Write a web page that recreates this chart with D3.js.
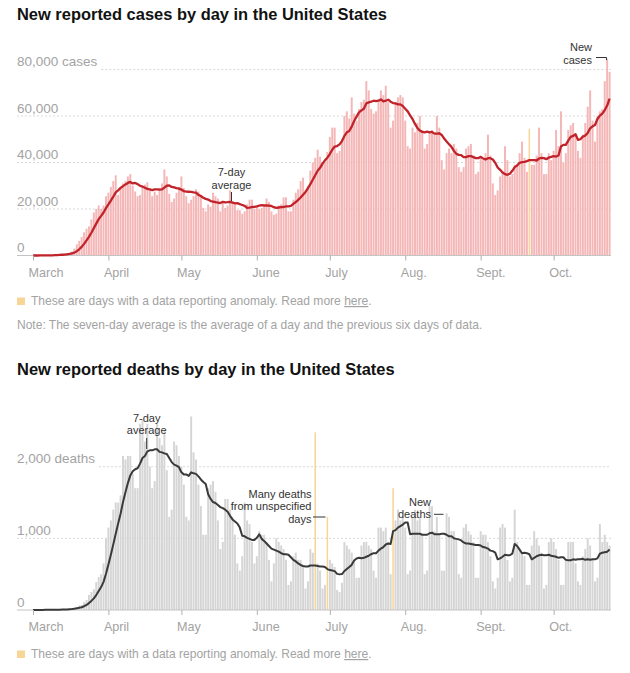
<!DOCTYPE html>
<html>
<head>
<meta charset="utf-8">
<script src="https://cdn.jsdelivr.net/npm/d3@7"></script>
<style>
  html, body { margin: 0; padding: 0; background: #fff; }
  svg { display: block; }
  text { font-family: "Liberation Sans", Arial, sans-serif; }
</style>
</head>
<body>
<svg id="chart" width="630" height="673"></svg>
<script>
// ---------------- DATA ----------------
const startDate = "2020-03-01";
const monthTickDates = ["2020-03-01","2020-04-01","2020-05-01","2020-06-01","2020-07-01","2020-08-01","2020-09-01","2020-10-01"];
const monthTickLabels = ["March","April","May","June","July","Aug.","Sept.","Oct."];

const casesDaily = [
  // March
  12, 22, 28, 30, 65, 75, 110, 120, 180, 290,
  410, 500, 620, 760, 900, 1100, 1800, 3000, 4800, 6300,
  8000, 10000, 11500, 12500, 15500, 18500, 20000, 21500, 20000, 21500, 25500,
  // April
  27000, 29500, 32000, 34500, 26000, 29000, 31000, 32000, 34000, 35000,
  30000, 27500, 25500, 26000, 29500, 30500, 31500, 28500, 25500, 27500,
  26000, 29000, 31000, 37000, 34000, 26500, 23000, 24500, 27000, 29500,
  // May
  34000, 29000, 25500, 22500, 24000, 25500, 28500, 27500, 25500, 20500,
  19000, 22000, 21000, 27000, 25500, 24500, 19000, 22500, 20500, 21500,
  28000, 23500, 22000, 19500, 19500, 18000, 19000, 22000, 24000, 24000, 20000,
  // June
  21000, 20000, 20500, 21000, 24500, 23000, 19000, 17500, 18000, 21500,
  22000, 25000, 25000, 19000, 19000, 24000, 27000, 28500, 32000, 33500,
  27500, 30000, 36500, 40000, 42000, 45500, 42500, 40000, 40000, 44500,
  // July
  51000, 55000, 55000, 44000, 45000, 50000, 60000, 62000, 59000, 68000,
  61000, 58000, 63000, 66000, 67000, 75000, 71000, 63000, 61000, 62000,
  67000, 71000, 69000, 73000, 66000, 55000, 58000, 66000, 68000, 69000, 68000,
  // August
  58000, 47000, 46000, 55000, 53000, 57000, 60000, 54000, 46000, 48000,
  53000, 54000, 52000, 60000, 55000, 41000, 37000, 44000, 46000, 44000,
  48000, 46000, 38000, 36000, 38000, 46000, 47000, 48000, 43000, 35000, 36000,
  // September
  42000, 41000, 44000, 52000, 43000, 31000, 26000, 28000, 34000, 36000,
  47000, 41000, 34000, 35000, 39000, 39000, 44000, 49000, 42000, 36000,
  54500, 39000, 39000, 43000, 55000, 44000, 35000, 35000, 44000, 41000,
  // October
  45000, 54000, 47000, 62000, 40000, 44000, 54000, 56000, 57000, 52000,
  45000, 42000, 52000, 57000, 64000, 71000, 58000, 49000, 60000, 62000,
  63000, 75000, 84500, 79000
];

const deathsDaily = [
  // March
  1, 5, 1, 3, 1, 3, 2, 3, 4, 6,
  8, 7, 11, 10, 13, 20, 25, 37, 45, 62,
  70, 110, 140, 210, 250, 290, 390, 460, 500, 650, 1000,
  // April
  1150, 1250, 1400, 1500, 1500, 1600, 2150, 2100, 2150, 2150,
  1900, 1700, 1700, 2600, 2650, 2350, 2600, 2000, 1700, 1800,
  2600, 2400, 2300, 2500, 1950, 1300, 1400, 2350, 2300, 2150,
  // May
  2000, 1750, 1300, 1250, 2700, 2200, 2100, 1750, 1450, 1050,
  1050, 1700, 1750, 1800, 1650, 1250, 850, 950, 1550, 1550,
  1400, 1300, 1050, 650, 550, 750, 1500, 1250, 1200, 950, 650,
  // June
  750, 1100, 1050, 1050, 950, 700, 400, 650, 1000, 950,
  900, 850, 700, 350, 400, 750, 800, 700, 700, 600,
  300, 400, 850, 800, 2480, 650, 550, 300, 350, 1300,
  // July
  700, 650, 600, 280, 250, 380, 950, 900, 850, 800,
  700, 450, 450, 900, 950, 950, 900, 850, 550, 450,
  1150, 1150, 1100, 1150, 950, 500, 1700, 1250, 1400, 1250, 1300,
  // August
  1150, 500, 550, 1300, 1400, 1250, 1300, 1050, 500, 550,
  1450, 1450, 1100, 1300, 1050, 550, 550, 1350, 1300, 1100,
  1100, 1000, 500, 450, 1150, 1200, 1100, 1050, 950, 450, 450,
  // September
  1100, 1050, 1050, 950, 750, 400, 300, 450, 1150, 1200,
  1150, 700, 400, 450, 1400, 950, 850, 800, 750, 350,
  350, 900, 1100, 1000, 900, 800, 300, 350, 950, 1000,
  // October
  950, 850, 700, 350, 350, 700, 950, 950, 950, 650,
  400, 350, 750, 850, 1000, 900, 700, 400, 450, 1200,
  950, 1050, 950, 900
];

// days with a data reporting anomaly, and the value counted in the 7-day average
const casesAnomalyDates = ["2020-09-21"];
const casesAnomalyAvgValues = [38000];
const deathsAnomalyDates = ["2020-06-25", "2020-06-30", "2020-07-27"];
const deathsAnomalyAvgValues = [700, 650, 1700];

const casesTicks = [0, 20000, 40000, 60000, 80000];
const casesTickLabels = ["0", "20,000", "40,000", "60,000", "80,000 cases"];
const deathsTicks = [0, 1000, 2000];
const deathsTickLabels = ["0", "1,000", "2,000 deaths"];

// ---------------- HELPERS ----------------
const parse = d3.utcParse("%Y-%m-%d");
const start = parse(startDate);
const dates = casesDaily.map((_, i) => d3.utcDay.offset(start, i));
const monthDates = monthTickDates.map(parse);

const x = d3.scaleUtc()
  .domain([dates[0], dates[dates.length - 1]])
  .range([33, 609.6]);

function rolling(vals, adjDates, adjVals) {
  const v = vals.slice();
  adjDates.forEach((ds, k) => { v[d3.utcDay.count(start, parse(ds))] = adjVals[k]; });
  return v.map((_, i) => d3.sum(v.slice(Math.max(0, i - 6), i + 1)) / 7);
}

function fit(sel, w) {
  const cur = sel.node().getComputedTextLength();
  const fs = parseFloat(sel.attr("font-size"));
  sel.attr("font-size", (fs * w / cur).toFixed(2));
}

const svg = d3.select("#chart");
svg.append("rect").attr("width", 630).attr("height", 673).attr("fill", "#fff");

const YEL = "#f6d596";

function drawChart(cfg) {
  const g = svg.append("g");
  const y = cfg.y;
  const anomalyIdx = new Set(cfg.anomalyDates.map(ds => d3.utcDay.count(start, parse(ds))));

  // tick labels
  const labels = g.append("g").selectAll("text")
    .data(cfg.ticks).join("text")
    .attr("x", 17)
    .attr("y", d => y(d) - 3.5)
    .attr("font-size", 13.5)
    .attr("fill", "#a3a3a3")
    .text((d, i) => cfg.tickLabels[i]);

  // gridlines
  const last = cfg.ticks.length - 1;
  const topLabelEnd = 17 + labels.nodes()[last].getComputedTextLength();
  g.append("g").selectAll("line")
    .data(cfg.ticks.filter(d => d > 0)).join("line")
    .attr("x1", (d, i) => (i === last - 1 ? topLabelEnd + 4 : 17))
    .attr("x2", 611)
    .attr("y1", d => y(d)).attr("y2", d => y(d))
    .attr("stroke", "#d9d9d9")
    .attr("stroke-width", 1)
    .attr("stroke-dasharray", "2,2");

  // bars
  const bw = 1.95;
  g.append("g").selectAll("rect")
    .data(cfg.values.map((v, i) => ({ v, i })).filter(d => !anomalyIdx.has(d.i)))
    .join("rect")
    .attr("x", d => x(dates[d.i]) - bw / 2)
    .attr("width", bw)
    .attr("y", d => y(d.v))
    .attr("height", d => y(0) - y(d.v))
    .attr("fill", cfg.barColor);

  g.append("g").selectAll("rect")
    .data(cfg.values.map((v, i) => ({ v, i })).filter(d => anomalyIdx.has(d.i)))
    .join("rect")
    .attr("x", d => x(dates[d.i]) - 0.75)
    .attr("width", 1.5)
    .attr("y", d => y(d.v))
    .attr("height", d => y(0) - y(d.v))
    .attr("fill", YEL);

  // baseline
  g.append("line")
    .attr("x1", 17).attr("x2", 611)
    .attr("y1", y(0)).attr("y2", y(0))
    .attr("stroke", "#c4c4c4").attr("stroke-width", 1);

  // average line
  g.append("path")
    .datum(cfg.avg)
    .attr("fill", "none")
    .attr("stroke", cfg.lineColor)
    .attr("stroke-width", cfg.lineWidth)
    .attr("stroke-linejoin", "round")
    .attr("d", d3.line().x((d, i) => x(dates[i])).y(d => y(d)));

  // month axis
  const ax = g.append("g")
    .attr("transform", `translate(0,${y(0)})`)
    .call(d3.axisBottom(x).tickValues(monthDates).tickSize(5).tickFormat((d, i) => monthTickLabels[i]));
  ax.select(".domain").remove();
  ax.selectAll(".tick line").attr("stroke", "#b0b0b0");
  ax.selectAll(".tick text")
    .attr("text-anchor", "start")
    .attr("x", -5)
    .attr("dy", null)
    .attr("y", 21)
    .attr("font-size", 12.6)
    .attr("font-family", "Liberation Sans, Arial, sans-serif")
    .attr("fill", "#a3a3a3");
  return g;
}

function annot(lines, xPos, ys, anchor) {
  lines.forEach((t, i) => {
    svg.append("text")
      .attr("x", xPos).attr("y", ys[i])
      .attr("text-anchor", anchor)
      .attr("font-size", 11)
      .attr("fill", "#333")
      .text(t);
  });
}
function seg(x1, y1, x2, y2) {
  svg.append("line").attr("x1", x1).attr("y1", y1).attr("x2", x2).attr("y2", y2)
    .attr("stroke", "#333").attr("stroke-width", 1);
}

// ---------------- CASES ----------------
const yCases = d3.scaleLinear().domain([0, 80000]).range([255.5, 69.5]);
fit(svg.append("text").attr("x", 17).attr("y", 20).attr("font-size", 17)
  .attr("font-weight", "bold").attr("fill", "#121212")
  .text("New reported cases by day in the United States"), 370);

drawChart({
  y: yCases, ticks: casesTicks, tickLabels: casesTickLabels,
  values: casesDaily,
  avg: rolling(casesDaily, casesAnomalyDates, casesAnomalyAvgValues),
  anomalyDates: casesAnomalyDates,
  barColor: "#f4b6b6", lineColor: "#c1232b", lineWidth: 2.3
});

annot(["7-day", "average"], 231.5, [175.8, 188.5], "middle");
seg(231.5, 192, 231.5, 201);
annot(["New", "cases"], 592, [50.8, 63.5], "end");
seg(596, 57.5, 606.5, 57.5);
seg(606.5, 57.5, 606.5, 60);

function legend(yBase) {
  svg.append("rect").attr("x", 17).attr("y", yBase - 7.5).attr("width", 8).attr("height", 7.5).attr("fill", YEL);
  const t = svg.append("text").attr("x", 31).attr("y", yBase).attr("font-size", 13).attr("fill", "#a3a3a3");
  t.append("tspan").text("These are days with a data reporting anomaly. Read more ");
  t.append("tspan").attr("text-decoration", "underline").text("here");
  t.append("tspan").text(".");
  fit(t, 341);
}
legend(305);
fit(svg.append("text").attr("x", 17).attr("y", 329).attr("font-size", 13).attr("fill", "#a3a3a3")
  .text("Note: The seven-day average is the average of a day and the previous six days of data."), 466);

// ---------------- DEATHS ----------------
const yDeaths = d3.scaleLinear().domain([0, 2000]).range([610, 466.7]);
fit(svg.append("text").attr("x", 17).attr("y", 375).attr("font-size", 17)
  .attr("font-weight", "bold").attr("fill", "#121212")
  .text("New reported deaths by day in the United States"), 378);

drawChart({
  y: yDeaths, ticks: deathsTicks, tickLabels: deathsTickLabels,
  values: deathsDaily,
  avg: rolling(deathsDaily, deathsAnomalyDates, deathsAnomalyAvgValues),
  anomalyDates: deathsAnomalyDates,
  barColor: "#d5d5d5", lineColor: "#3a3a3a", lineWidth: 2
});

annot(["7-day", "average"], 146.7, [421.8, 434.4], "middle");
seg(146.7, 438, 146.7, 449);
annot(["Many deaths", "from unspecified", "days"], 311.5, [497.6, 510.1, 522.6], "end");
seg(313, 517, 325.5, 517);
annot(["New", "deaths"], 431, [505.6, 518.2], "end");
seg(434, 514.3, 443.5, 514.3);

legend(658);
</script>
</body>
</html>
